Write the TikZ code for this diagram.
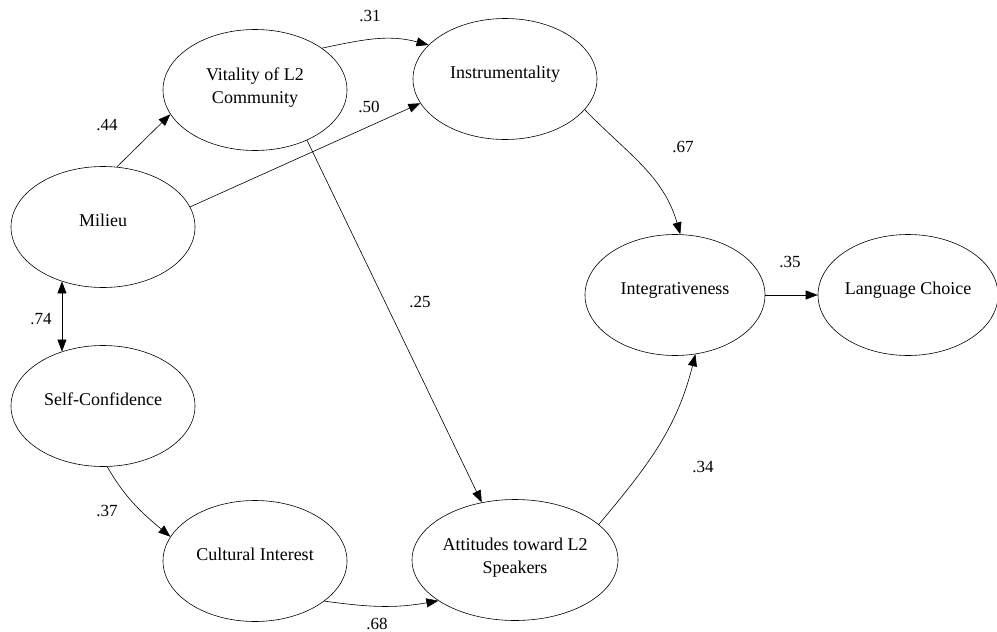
\documentclass[tikz,border=0pt]{standalone}
\usepackage{fontspec}
\setmainfont{Liberation Serif}
\usetikzlibrary{shapes.geometric,arrows.meta}
\begin{document}
\begin{tikzpicture}[x=1pt,y=1pt,
  factor/.style={draw, ellipse, minimum width=184pt, minimum height=121pt, inner sep=0pt, line width=0.6pt, align=center, font=\fontsize{18}{23}\selectfont},
  single/.style={text height=12pt, text depth=13pt},
  coef/.style={inner sep=0pt, font=\fontsize{17}{20}\selectfont},
  effect/.style={-{Triangle[length=12pt,width=9pt]}, line width=0.6pt}]
\useasboundingbox (0,0) rectangle (997,-632);
\node[factor, text depth=8pt] (vit) at (255,-90) {Vitality of L2\\Community};
\node[factor, single] (ins) at (505,-79) {Instrumentality};
\node[factor, single] (mil) at (103,-227) {Milieu};
\node[factor, single] (sc) at (103,-406) {Self-Confidence};
\node[factor, single] (cult) at (255,-561) {Cultural Interest};
\node[factor, text depth=8pt, minimum width=206pt] (att) at (515,-560) {Attitudes toward L2\\Speakers};
\node[factor, single, minimum width=180pt] (int) at (675,-295) {Integrativeness};
\node[factor, single, minimum width=180pt] (lang) at (908,-295) {Language Choice};
\draw[effect] (mil.77) -- (vit.196);
\draw[effect] (mil.13) -- (ins.196);
\draw[effect] (vit.32) to[out=12,in=165] (ins.156);
\draw[effect] (vit.-44) -- (att.120);
\draw[effect] (ins.-21) to[out=-46,in=106] (int.85);
\draw[effect] (int.east) -- (lang.west);
\draw[effect] (att.23) to[out=50,in=-104] (int.-71);
\draw[effect] (sc.-86) to[out=-60,in=140] (cult.164);
\draw[effect] (cult.-30) to[out=-8,in=190] (att.208);
\draw[effect, {Triangle[length=12pt,width=9pt]}-{Triangle[length=12pt,width=9pt]}] (mil.233) -- (sc.127);
\node[coef] (c31) at (370,-16) {.31};
\node[coef] (c44) at (107,-125) {.44};
\node[coef] (c50) at (369,-107) {.50};
\node[coef] (c25) at (420,-302) {.25};
\node[coef] (c67) at (683,-147) {.67};
\node[coef] (c35) at (790,-262) {.35};
\node[coef] (c74) at (41,-319) {.74};
\node[coef] (c37) at (107,-511) {.37};
\node[coef] (c34) at (703,-467) {.34};
\node[coef] (c68) at (377,-624) {.68};
\end{tikzpicture}
\end{document}
